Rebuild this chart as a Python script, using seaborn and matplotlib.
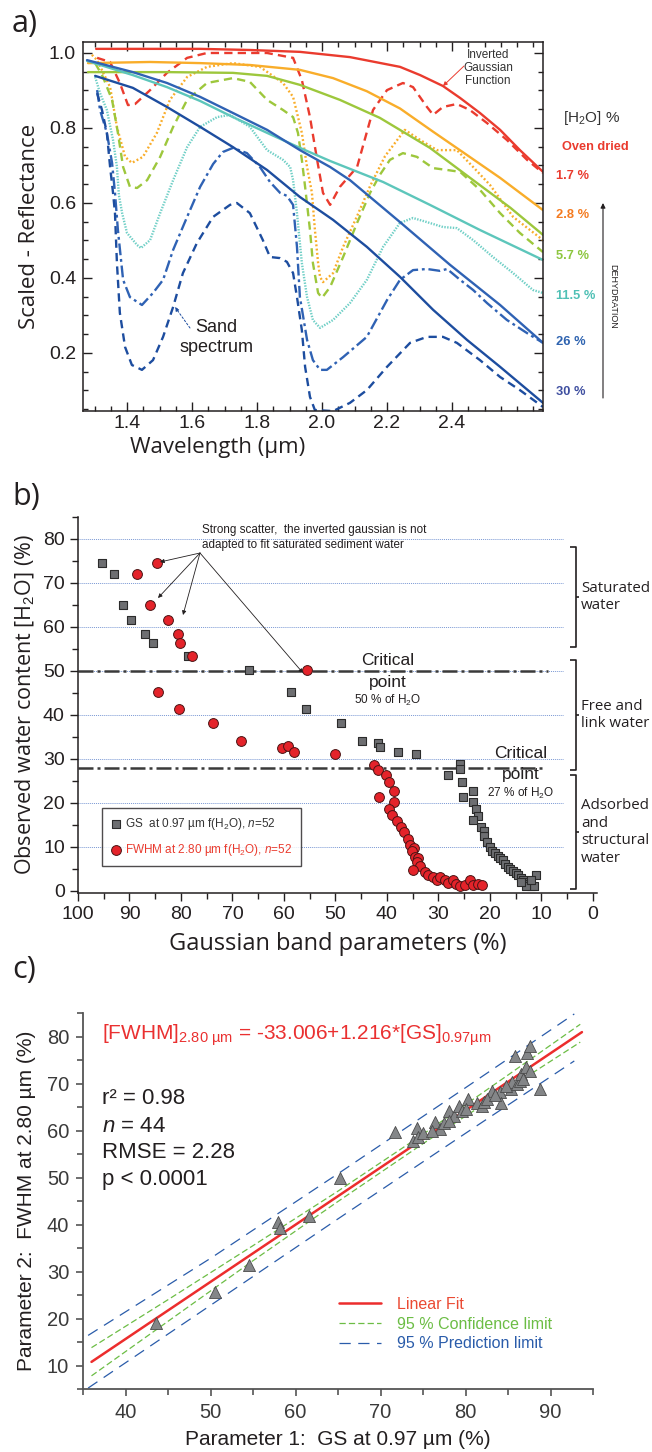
import matplotlib
matplotlib.use("Agg")
import matplotlib.pyplot as plt
from matplotlib.lines import Line2D
from matplotlib.patches import FancyArrowPatch
from matplotlib.ticker import MultipleLocator
import seaborn as sns

# ---------------------------------------------------------------- panel a data
# wavelength (um) / scaled reflectance; solid = inverted gaussian fit, broken = spectrum
wl_dry_fit = [1.305, 1.471, 1.625, 1.778, 1.932, 2.086, 2.24, 2.302, 2.372, 2.425, 2.486, 2.548, 2.609, 2.68]
rf_dry_fit = [1.011, 1.011, 1.011, 1.008, 1.003, 0.989, 0.963, 0.941, 0.912, 0.88, 0.84, 0.795, 0.741, 0.683]
wl_dry_spec = [1.308, 1.348, 1.378, 1.403, 1.425, 1.471, 1.523, 1.585, 1.646, 1.726, 1.831, 1.911,
               1.938, 1.963, 1.985, 2.003, 2.025, 2.055, 2.108, 2.157, 2.2, 2.249, 2.28, 2.323,
               2.342, 2.372, 2.415, 2.455, 2.508, 2.569, 2.631, 2.68]
rf_dry_spec = [0.987, 0.976, 0.92, 0.861, 0.864, 0.901, 0.947, 0.987, 1.0, 1.0, 1.0, 0.987,
               0.928, 0.829, 0.715, 0.627, 0.595, 0.643, 0.696, 0.848, 0.901, 0.92, 0.909, 0.856,
               0.835, 0.856, 0.864, 0.848, 0.813, 0.768, 0.715, 0.68]

wl_28_fit = [1.28, 1.471, 1.625, 1.778, 1.932, 2.034, 2.138, 2.24, 2.342, 2.446, 2.548, 2.68]
rf_28_fit = [0.973, 0.976, 0.973, 0.968, 0.955, 0.933, 0.898, 0.852, 0.79, 0.728, 0.667, 0.581]
wl_28_spec = [1.292, 1.308, 1.348, 1.369, 1.394, 1.415, 1.449, 1.492, 1.532, 1.585, 1.646, 1.726,
              1.809, 1.88, 1.911, 1.938, 1.954, 1.969, 1.978, 1.988, 1.994, 2.003, 2.034, 2.065,
              2.108, 2.148, 2.194, 2.255, 2.302, 2.354, 2.415, 2.465, 2.517, 2.588, 2.68]
rf_28_spec = [0.995, 0.981, 0.909, 0.803, 0.723, 0.707, 0.723, 0.787, 0.875, 0.936, 0.963, 0.973,
              0.963, 0.92, 0.883, 0.787, 0.696, 0.627, 0.53, 0.44, 0.403, 0.389, 0.413, 0.483,
              0.565, 0.645, 0.725, 0.795, 0.768, 0.741, 0.741, 0.696, 0.648, 0.563, 0.501]

wl_57_fit = [1.28, 1.523, 1.726, 1.831, 1.932, 2.055, 2.178, 2.332, 2.465, 2.58, 2.68]
rf_57_fit = [0.949, 0.949, 0.947, 0.939, 0.915, 0.875, 0.827, 0.747, 0.661, 0.587, 0.515]
wl_57_spec = [1.302, 1.326, 1.354, 1.372, 1.388, 1.409, 1.431, 1.462, 1.502, 1.542, 1.585, 1.646,
              1.726, 1.778, 1.831, 1.88, 1.911, 1.926, 1.938, 1.948, 1.963, 1.972, 1.988, 2.0,
              2.025, 2.065, 2.108, 2.148, 2.178, 2.209, 2.249, 2.292, 2.342, 2.385, 2.425, 2.486,
              2.548, 2.609, 2.68]
rf_57_spec = [0.973, 0.936, 0.875, 0.787, 0.696, 0.643, 0.64, 0.661, 0.723, 0.803, 0.875, 0.92,
              0.933, 0.923, 0.875, 0.848, 0.829, 0.787, 0.715, 0.643, 0.528, 0.44, 0.36, 0.347,
              0.376, 0.456, 0.547, 0.627, 0.675, 0.715, 0.733, 0.723, 0.693, 0.688, 0.683, 0.635,
              0.573, 0.52, 0.469]

wl_115_fit = [1.277, 1.418, 1.523, 1.625, 1.726, 1.831, 1.932, 2.025, 2.188, 2.332, 2.486, 2.68]
rf_115_fit = [0.979, 0.941, 0.909, 0.872, 0.829, 0.787, 0.747, 0.712, 0.656, 0.595, 0.528, 0.448]
wl_115_spec = [1.302, 1.317, 1.338, 1.357, 1.369, 1.375, 1.385, 1.4, 1.431, 1.443, 1.471, 1.502,
               1.542, 1.585, 1.625, 1.677, 1.717, 1.778, 1.831, 1.88, 1.902, 1.911, 1.923, 1.938,
               1.954, 1.972, 1.994, 2.034, 2.086, 2.138, 2.188, 2.24, 2.28, 2.323, 2.372, 2.415,
               2.465, 2.526, 2.588, 2.649, 2.68]
rf_115_spec = [0.936, 0.893, 0.848, 0.768, 0.696, 0.621, 0.573, 0.52, 0.488, 0.48, 0.501, 0.573,
               0.661, 0.749, 0.803, 0.829, 0.835, 0.803, 0.741, 0.715, 0.696, 0.661, 0.573, 0.44,
               0.349, 0.288, 0.267, 0.288, 0.333, 0.395, 0.483, 0.547, 0.56, 0.549, 0.536, 0.533,
               0.501, 0.456, 0.413, 0.368, 0.36]

wl_26_fit = [1.277, 1.418, 1.523, 1.625, 1.726, 1.831, 1.932, 2.025, 2.086, 2.24, 2.394, 2.548, 2.68]
rf_26_fit = [0.981, 0.949, 0.92, 0.883, 0.84, 0.795, 0.741, 0.696, 0.661, 0.549, 0.435, 0.328, 0.227]
wl_26_spec = [1.308, 1.317, 1.338, 1.354, 1.363, 1.372, 1.388, 1.409, 1.446, 1.48, 1.511, 1.542,
              1.585, 1.625, 1.665, 1.695, 1.726, 1.769, 1.809, 1.84, 1.871, 1.892, 1.911, 1.923,
              1.932, 1.954, 1.972, 1.994, 2.015, 2.065, 2.138, 2.2, 2.24, 2.28, 2.323, 2.363,
              2.385, 2.425, 2.465, 2.508, 2.569, 2.631, 2.68]
rf_26_spec = [0.901, 0.848, 0.787, 0.707, 0.627, 0.528, 0.395, 0.349, 0.328, 0.36, 0.395, 0.475,
              0.563, 0.643, 0.704, 0.736, 0.747, 0.733, 0.696, 0.656, 0.627, 0.619, 0.595, 0.483,
              0.349, 0.235, 0.181, 0.155, 0.155, 0.189, 0.243, 0.341, 0.395, 0.421, 0.424, 0.419,
              0.424, 0.395, 0.368, 0.333, 0.288, 0.253, 0.227]

wl_30_fit = [1.302, 1.418, 1.523, 1.625, 1.726, 1.831, 1.932, 2.034, 2.138, 2.24, 2.342, 2.446, 2.548, 2.68]
rf_30_fit = [0.939, 0.907, 0.856, 0.803, 0.749, 0.688, 0.616, 0.555, 0.483, 0.403, 0.315, 0.235, 0.163, 0.067]
wl_30_spec = [1.308, 1.323, 1.338, 1.348, 1.357, 1.363, 1.369, 1.378, 1.394, 1.415, 1.446, 1.48,
              1.511, 1.542, 1.572, 1.615, 1.665, 1.717, 1.738, 1.778, 1.818, 1.84, 1.871, 1.892,
              1.911, 1.923, 1.938, 1.948, 1.963, 1.978, 2.034, 2.086, 2.138, 2.2, 2.271, 2.323,
              2.372, 2.415, 2.486, 2.548, 2.609, 2.68]
rf_30_spec = [0.893, 0.848, 0.787, 0.696, 0.627, 0.573, 0.44, 0.307, 0.216, 0.168, 0.155, 0.181,
              0.243, 0.323, 0.413, 0.493, 0.563, 0.595, 0.6, 0.573, 0.501, 0.456, 0.453, 0.443,
              0.413, 0.349, 0.261, 0.163, 0.083, 0.048, 0.045, 0.067, 0.101, 0.163, 0.227, 0.243,
              0.243, 0.227, 0.181, 0.136, 0.101, 0.056]

water_labels = ["1.7 %", "2.8 %", "5.7 %", "11.5 %", "26 %", "30 %"]

# ---------------------------------------------------------------- panel b data
gs_param = [95.3, 93.0, 91.3, 89.7, 87.0, 85.4, 78.6, 66.8, 58.6, 55.7, 48.9, 44.9, 41.7, 41.4,
            37.9, 34.4, 25.8, 25.8, 28.2, 25.4, 23.3, 25.2, 23.3, 22.7, 22.3, 23.3, 21.7, 21.2,
            21.2, 20.5, 20.0, 19.5, 19.0, 18.5, 18.0, 17.5, 17.0, 16.5, 16.0, 15.5, 15.0, 14.5,
            14.0, 13.5, 13.0, 12.5, 12.0, 11.5, 11.0, 13.0, 12.0, 14.0]
gs_water = [74.5, 72.0, 65.0, 61.6, 58.4, 56.4, 53.4, 50.2, 45.2, 41.4, 38.2, 34.1, 33.6, 32.7,
            31.6, 31.1, 28.9, 27.7, 26.4, 24.8, 22.7, 21.4, 20.2, 18.6, 17.0, 16.1, 14.5, 13.6,
            12.5, 11.0, 10.0, 9.0, 8.5, 8.0, 7.5, 7.0, 6.0, 5.5, 5.0, 4.5, 4.0, 3.5,
            3.0, 2.5, 2.0, 1.5, 1.2, 1.0, 3.5, 1.0, 2.5, 2.0]
fwhm_param = [84.7, 88.5, 86.0, 82.5, 80.6, 80.2, 77.9, 55.5, 84.5, 80.4, 73.8, 68.3, 60.4, 59.2,
              58.0, 50.1, 42.6, 41.8, 40.2, 39.6, 38.6, 41.6, 38.6, 39.6, 39.0, 38.1, 37.3, 36.7,
              35.9, 35.5, 34.8, 35.1, 34.5, 34.0, 34.1, 33.6, 35.0, 32.6, 32.0, 31.1, 30.3, 29.7,
              28.7, 28.2, 27.2, 26.6, 25.8, 24.9, 23.9, 23.3, 22.3, 21.6]
fwhm_water = [74.5, 72.0, 65.0, 61.6, 58.4, 56.4, 53.4, 50.2, 45.2, 41.4, 38.2, 34.1, 32.5, 33.0,
              31.6, 31.1, 28.6, 27.5, 26.4, 24.8, 22.7, 21.4, 20.2, 18.6, 17.3, 15.9, 14.5, 13.4,
              11.8, 10.5, 9.8, 9.1, 7.7, 7.5, 6.6, 5.7, 4.8, 4.3, 3.6, 3.2, 2.5, 3.2,
              2.5, 1.8, 2.5, 1.6, 1.1, 1.4, 2.5, 1.4, 1.6, 1.4]
grid_levels = [10, 20, 30, 40, 50, 60, 70, 80]
critical_levels = [50, 28]

# ---------------------------------------------------------------- panel c data
gs_097 = [43.6, 50.5, 54.5, 57.9, 58.2, 61.6, 65.2, 71.7, 74.3, 73.8, 74.4, 76.4, 77.0, 78.1,
          78.6, 79.2, 79.6, 80.3, 81.4, 81.9, 82.2, 83.1, 84.1, 84.2, 85.4, 85.5, 86.0, 86.4,
          86.5, 87.1, 87.6, 85.8, 87.2, 87.6, 88.8, 75.0, 76.0, 77.5, 78.0, 80.0, 82.5, 83.5,
          86.8, 84.8]
fwhm_280 = [19.1, 25.7, 31.3, 40.5, 39.2, 41.8, 49.9, 59.7, 60.6, 57.8, 58.6, 61.8, 60.3, 64.2,
            63.1, 65.3, 64.2, 66.8, 65.9, 65.3, 66.1, 68.5, 68.2, 65.9, 68.9, 70.4, 70.0, 70.6,
            72.1, 73.6, 72.7, 75.9, 76.5, 77.9, 68.9, 59.5, 60.0, 61.5, 62.0, 64.5, 66.8, 67.5,
            71.0, 69.5]
fit_intercept, fit_slope = -33.006, 1.216
fit_range = [36.0, 93.7]
conf_x = [36.0, 45.0, 55.0, 65.0, 75.0, 85.0, 93.5]
conf_upper = [13.8, 24.0, 35.5, 47.1, 59.2, 71.8, 82.6]
conf_lower = [7.8, 19.4, 32.3, 44.9, 57.2, 68.9, 78.8]
pred_x = [35.6, 50.0, 65.0, 80.0, 92.8]
pred_upper = [16.4, 32.8, 50.8, 69.1, 84.8]
pred_lower = [5.2, 22.8, 41.2, 59.4, 74.8]

# ---------------------------------------------------------------- style
sns.set_theme(style="ticks")
plt.rcParams["font.family"] = ["Liberation Sans", "DejaVu Sans"]
plt.rcParams["mathtext.fontset"] = "custom"
plt.rcParams["mathtext.rm"] = "Liberation Sans"
plt.rcParams["mathtext.it"] = "Liberation Sans:italic"
plt.rcParams["mathtext.bf"] = "Liberation Sans:bold"
HUM = ["Open Sans", "DejaVu Sans"]
INK = "#231f20"

RED, ORANGE, GREEN, TEAL, BLUE, NAVY = "#ea3b2e", "#f9ad2a", "#9dc73c", "#5dc6bb", "#2f62b4", "#1d4d9f"

W, H = 652, 1452
def fx(x): return x / W
def fy(y): return 1 - y / H
def rect(l, t, r, b): return [fx(l), fy(b), (r - l) / W, (b - t) / H]

fig = plt.figure(figsize=(W / 100, H / 100), dpi=100)
axA = fig.add_axes(rect(83, 42, 543, 411))
axB = fig.add_axes(rect(78, 517, 597, 893))
axC = fig.add_axes(rect(83, 1013, 593, 1389))

def farrow(p0, p1, color=INK, lw=0.7, ls="-", ms=7):
    fig.add_artist(FancyArrowPatch((fx(p0[0]), fy(p0[1])), (fx(p1[0]), fy(p1[1])),
                                   transform=fig.transFigure, arrowstyle="-|>",
                                   mutation_scale=ms, color=color, lw=lw, linestyle=ls,
                                   shrinkA=0, shrinkB=0))

def fline(xs, ys, color=INK, lw=1.2):
    fig.add_artist(Line2D([fx(v) for v in xs], [fy(v) for v in ys],
                          transform=fig.transFigure, color=color, lw=lw,
                          solid_capstyle="butt"))

# ---------------------------------------------------------------- panel a
curves = [
    (wl_dry_fit, rf_dry_fit, RED, "-"),
    (wl_dry_spec, rf_dry_spec, RED, (0, (3.5, 2.2))),
    (wl_28_fit, rf_28_fit, ORANGE, "-"),
    (wl_28_spec, rf_28_spec, ORANGE, (0, (0.8, 1.0))),
    (wl_57_fit, rf_57_fit, GREEN, "-"),
    (wl_57_spec, rf_57_spec, GREEN, (0, (3.5, 2.2))),
    (wl_115_fit, rf_115_fit, TEAL, "-"),
    (wl_115_spec, rf_115_spec, "#6fcfc6", (0, (0.6, 0.6))),
    (wl_26_fit, rf_26_fit, BLUE, "-"),
    (wl_26_spec, rf_26_spec, BLUE, (0, (5, 1.6, 1.2, 1.6))),
    (wl_30_fit, rf_30_fit, NAVY, "-"),
    (wl_30_spec, rf_30_spec, NAVY, (0, (3.5, 2.2))),
]
for wl, rf, col, ls in curves:
    sns.lineplot(x=wl, y=rf, ax=axA, color=col, linestyle=ls, lw=1.7,
                 sort=False, estimator=None)

axA.set_xlim(1.2646, 2.68)
axA.set_ylim(0.0453, 1.0293)
axA.set_xticks([1.4, 1.6, 1.8, 2.0, 2.2, 2.4])
axA.set_xticklabels(["1.4", "1.6", "1.8", "2.0", "2.2", "2.4"])
axA.set_yticks([0.2, 0.4, 0.6, 0.8, 1.0])
axA.set_yticklabels(["0.2", "0.4", "0.6", "0.8", "1.0"])
axA.xaxis.set_minor_locator(MultipleLocator(0.05))
axA.yaxis.set_minor_locator(MultipleLocator(0.05))
axA.tick_params(which="both", direction="in", top=True, right=True, colors=INK,
                labelsize=14, width=1.0)
axA.tick_params(which="major", length=6.5, pad=5)
axA.tick_params(axis="x", which="major", pad=3)
axA.tick_params(which="minor", length=3.5)
for s in axA.spines.values():
    s.set_color(INK)
    s.set_linewidth(1.1)
axA.set_ylabel("Scaled - Reflectance", fontsize=16, family=HUM, color=INK, labelpad=6)
fig.text(fx(218), fy(448), "Wavelength (µm)", fontsize=16, family=HUM, color=INK,
         ha="center", va="center")

fig.text(fx(12), fy(24), "a)", fontsize=22, color=INK, va="center", family=HUM)
fig.text(fx(488), fy(68), "Inverted\nGaussian\nFunction", fontsize=8.5, color="#333333",
         ha="center", va="center", linespacing=1.15)
farrow((464, 66), (443, 86), color=RED, lw=0.7, ms=6)
fig.text(fx(195), fy(327), "Sand", fontsize=13, color=INK, va="center")
fig.text(fx(180), fy(348), "spectrum", fontsize=13, color=INK, va="center")
farrow((190, 328), (175, 307), color=NAVY, lw=0.7, ls=(0, (2, 2)), ms=6)

fig.text(fx(563), fy(118), "[H$_2$O] %", fontsize=11, color="#333333", va="center")
fig.text(fx(562), fy(147), "Oven dried", fontsize=9.2, color=RED, va="center", weight="bold")
label_colors = [RED, "#f47b20", "#8dc63f", "#4fc0b5", "#2e63b0", "#3f4fa0"]
label_y = [176, 215, 256, 296, 342, 392]
for txt, col, yy in zip(water_labels, label_colors, label_y):
    fig.text(fx(556), fy(yy), txt, fontsize=9.3, color=col, va="center", weight="bold")
fig.text(fx(613), fy(296), "DEHYDRATION", fontsize=6.5, color=INK, rotation=-90,
         ha="center", va="center")
farrow((603, 398), (603, 203), color=INK, lw=0.8, ms=7)

# ---------------------------------------------------------------- panel b
axB.hlines(grid_levels, 100, 5.8, colors="#7a98d4", lw=0.7, linestyles=(0, (1, 1)))
axB.hlines(critical_levels[0], 100, 8.7, colors="#3a3a3a", lw=1.8,
           linestyles=(0, (6, 1.6, 1.2, 1.6)))
axB.hlines(critical_levels[1], 100, 9.7, colors="#3a3a3a", lw=1.8,
           linestyles=(0, (6, 1.6, 1.2, 1.6)))
sns.scatterplot(x=gs_param, y=gs_water, ax=axB, marker="s", s=38, color="#6d6e71",
                edgecolor="#2b2b2b", linewidth=0.8, zorder=3,
                label="GS  at 0.97 µm f(H$_2$O), $n$=52")
sns.scatterplot(x=fwhm_param, y=fwhm_water, ax=axB, marker="o", s=50, color="#e4232a",
                edgecolor="#4a1414", linewidth=0.7, zorder=4,
                label="FWHM at 2.80 µm f(H$_2$O), $n$=52")
axB.set_xlim(100, -0.8)
axB.set_ylim(-0.5, 85)
axB.set_xticks(range(0, 101, 10))
axB.set_yticks(range(0, 81, 10))
axB.xaxis.set_minor_locator(MultipleLocator(5))
axB.yaxis.set_minor_locator(MultipleLocator(5))
axB.tick_params(which="both", direction="out", colors=INK, labelsize=14, width=1.0)
axB.tick_params(which="major", length=5.5, pad=4)
axB.tick_params(which="minor", length=4.5)
sns.despine(ax=axB)
for s in ("left", "bottom"):
    axB.spines[s].set_color(INK)
    axB.spines[s].set_linewidth(1.1)
axB.set_xlabel("Gaussian band parameters (%)", fontsize=17, family=HUM, color=INK, labelpad=6)
axB.set_ylabel("Observed water content [H$_2$O] (%)", fontsize=15.5, family=HUM,
               color=INK, labelpad=4)
leg = axB.legend(loc="lower left", bbox_to_anchor=(0.046, 0.072), borderaxespad=0,
                 fontsize=8.5, frameon=True, fancybox=False, handletextpad=0.3,
                 borderpad=0.7, labelspacing=0.8, handlelength=1.0)
leg.get_frame().set_edgecolor(INK)
leg.get_frame().set_linewidth(1.0)
leg.get_texts()[0].set_color("#333333")
leg.get_texts()[1].set_color(RED)

fig.text(fx(12), fy(497), "b)", fontsize=22, color=INK, va="center", family=HUM)
fig.text(fx(202), fy(537.5), "Strong scatter,  the inverted gaussian is not\n"
         "adapted to fit saturated sediment water", fontsize=8.4, color=INK,
         va="center", linespacing=1.3)
for end in [(160, 562), (158, 598), (183, 615), (303, 673)]:
    farrow((200, 553), end, color=INK, lw=0.6, ms=6)

fig.text(fx(388), fy(660), "Critical", fontsize=12.5, color=INK, ha="center", va="center")
fig.text(fx(388), fy(682), "point", fontsize=12.5, color=INK, ha="center", va="center")
fig.text(fx(388), fy(700), "50 % of H$_2$O", fontsize=8.5, color=INK, ha="center", va="center")
fig.text(fx(521), fy(754), "Critical", fontsize=12.5, color=INK, ha="center", va="center")
fig.text(fx(521), fy(775), "point", fontsize=12.5, color=INK, ha="center", va="center")
fig.text(fx(521), fy(793), "27 % of H$_2$O", fontsize=8.5, color=INK, ha="center", va="center")

brackets = [(547, 647, "Saturated\nwater"), (660, 770, "Free and\nlink water"),
            (775, 889, "Adsorbed\nand\nstructural\nwater")]
for top, bot, txt in brackets:
    fline([570, 576, 576, 570], [top, top, bot, bot])
    mid = (top + bot) / 2
    fline([576, 579], [mid, mid])
    fig.text(fx(581), fy(mid), txt, fontsize=10.8, color=INK, va="center",
             family=HUM, linespacing=1.25)

# ---------------------------------------------------------------- panel c
fit_y = [fit_intercept + fit_slope * v for v in fit_range]
sns.lineplot(x=pred_x, y=pred_upper, ax=axC, color="#2a5caa", lw=0.9,
             linestyle=(0, (9, 6)), label="95 % Prediction limit")
sns.lineplot(x=pred_x, y=pred_lower, ax=axC, color="#2a5caa", lw=0.9,
             linestyle=(0, (9, 6)))
sns.lineplot(x=conf_x, y=conf_upper, ax=axC, color="#6cbd45", lw=0.9,
             linestyle=(0, (5, 2.5)), label="95 % Confidence limit")
sns.lineplot(x=conf_x, y=conf_lower, ax=axC, color="#6cbd45", lw=0.9,
             linestyle=(0, (5, 2.5)))
sns.lineplot(x=fit_range, y=fit_y, ax=axC, color="#ec2d2d", lw=1.8, label="Linear Fit")
sns.scatterplot(x=gs_097, y=fwhm_280, ax=axC, marker="^", s=75, color="#848688",
                edgecolor="#4a4a4a", linewidth=0.6, zorder=5)
axC.set_xlim(35, 95)
axC.set_ylim(5, 85)
axC.set_xticks(range(40, 91, 10))
axC.set_yticks(range(10, 81, 10))
axC.xaxis.set_minor_locator(MultipleLocator(5))
axC.yaxis.set_minor_locator(MultipleLocator(5))
axC.tick_params(which="both", direction="out", colors="#555555", labelcolor="#3a3a3a",
                labelsize=14.5, width=1.2)
axC.tick_params(which="major", length=5, pad=5)
axC.tick_params(which="minor", length=4.5)
sns.despine(ax=axC)
for s in ("left", "bottom"):
    axC.spines[s].set_color("#555555")
    axC.spines[s].set_linewidth(1.3)
axC.set_xlabel("Parameter 1:  GS at 0.97 µm (%)", fontsize=15, color=INK, labelpad=6)
axC.set_ylabel("Parameter 2:  FWHM at 2.80 µm (%)", fontsize=15, color=INK, labelpad=8)

handles, labels = axC.get_legend_handles_labels()
order = [labels.index(n) for n in ("Linear Fit", "95 % Confidence limit", "95 % Prediction limit")]
legc = axC.legend([handles[i] for i in order], [labels[i] for i in order],
                  loc="upper left", bbox_to_anchor=(0.49, 0.262), borderaxespad=0,
                  frameon=False, fontsize=11.5, handlelength=2.6, handletextpad=1.0,
                  labelspacing=0.3)
for t, c in zip(legc.get_texts(), ["#ea4a33", "#6cbd45", "#2a5caa"]):
    t.set_color(c)

fig.text(fx(12), fy(970), "c)", fontsize=22, color=INK, va="center", family=HUM)
fig.text(fx(102), fy(1035),
         "[FWHM]$_{\\mathrm{2.80\\ µm}}$ = -33.006+1.216*[GS]$_{\\mathrm{0.97µm}}$",
         fontsize=15, color="#ea3030", va="center")
stats = ["r² = 0.98", "$n$ = 44", "RMSE = 2.28", "p < 0.0001"]
for i, txt in enumerate(stats):
    fig.text(fx(102), fy(1099 + 27 * i), txt, fontsize=16, color=INK, va="center")

fig.savefig("out.png", dpi=100)
